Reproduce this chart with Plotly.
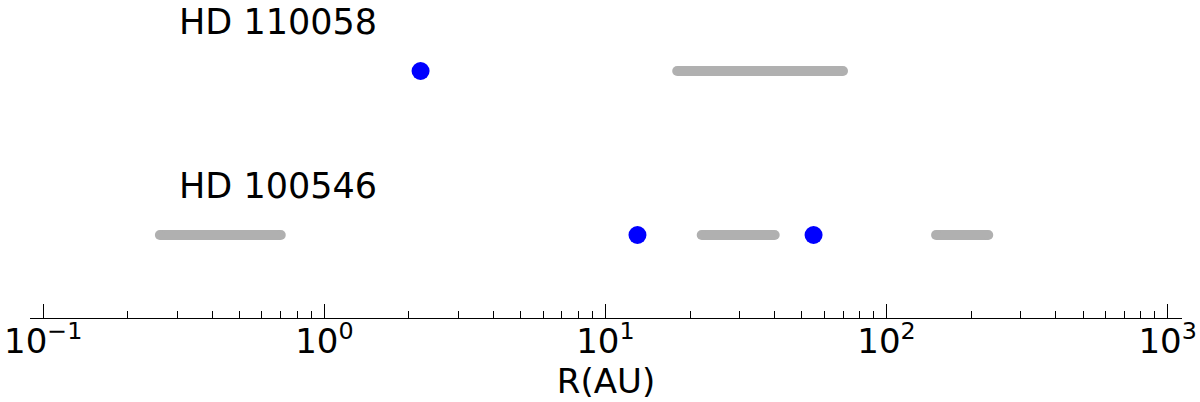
import math
import plotly.graph_objects as go

# ---- data ----
star_names = ["HD 110058", "HD 100546"]
star_rows = [2, 1]
label_x = [0.3, 0.3]
planets_110058 = [2.2]
disks_110058 = [(18.0, 70.0)]
planets_100546 = [13.0, 55.0]
disks_100546 = [(0.26, 0.70), (22.0, 40.0), (150.0, 230.0)]
tick_vals = [0.1, 1, 10, 100, 1000]
tick_text = ["10<sup>−1</sup>", "10<sup>0</sup>", "10<sup>1</sup>", "10<sup>2</sup>", "10<sup>3</sup>"]

GRAY = "#b0b0b0"
BLUE = "#0000ff"
FONT = "DejaVu Sans"

fig = go.Figure()

def add_disks(disks, row):
    for a, b in disks:
        fig.add_trace(go.Scatter(
            x=[a, b], y=[row, row], mode="lines+markers",
            line=dict(color=GRAY, width=10),
            marker=dict(color=GRAY, size=10, line=dict(width=0)),
            showlegend=False, hoverinfo="skip"))

def add_planets(planets, row):
    fig.add_trace(go.Scatter(
        x=planets, y=[row] * len(planets), mode="markers",
        marker=dict(color=BLUE, size=18, line=dict(width=0)),
        showlegend=False))

add_disks(disks_110058, star_rows[0])
add_planets(planets_110058, star_rows[0])
add_disks(disks_100546, star_rows[1])
add_planets(planets_100546, star_rows[1])

for name, row, lx in zip(star_names, star_rows, label_x):
    fig.add_annotation(x=math.log10(lx), y=row + 0.3, text=name,
                       showarrow=False, xanchor="left", yanchor="middle",
                       font=dict(family=FONT, size=35, color="black"))

fig.update_layout(
    width=1200, height=402,
    margin=dict(l=30, r=18, t=0, b=84, autoexpand=False),
    plot_bgcolor="white", paper_bgcolor="white",
    showlegend=False,
    xaxis=dict(
        type="log", range=[-1.047, 3.051], automargin=False,
        showgrid=False, zeroline=False,
        showline=True, linecolor="black", linewidth=1,
        ticks="inside", ticklen=14, tickwidth=1, tickcolor="black",
        tickvals=tick_vals, ticktext=tick_text,
        tickfont=dict(family=FONT, size=34, color="black"),
        ticklabelstandoff=-7, ticklabeloverflow="allow",
        minor=dict(ticks="inside", ticklen=7, tickwidth=1, tickcolor="black",
                   dtick="D1", showgrid=False),
        title=dict(text="R(AU)", font=dict(family=FONT, size=34, color="black"), standoff=5),
    ),
    yaxis=dict(range=[0.494, 2.433], visible=False, showgrid=False, zeroline=False),
)

fig.write_html("out.html", config={"displayModeBar": False},
               post_script="document.body.style.margin='0px';")
